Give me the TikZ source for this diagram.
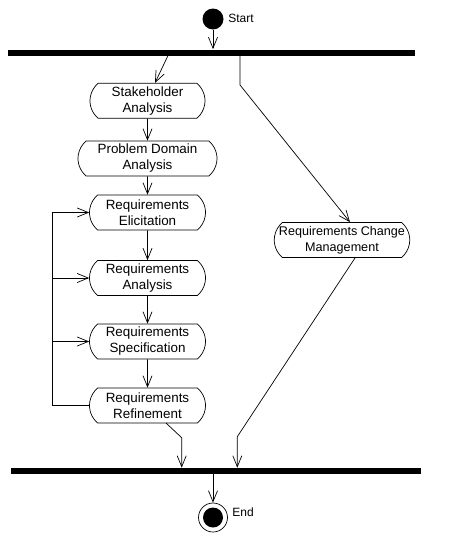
\documentclass[tikz,border=0pt]{standalone}
\usepackage{fontspec}
\setmainfont{Liberation Sans}
\usetikzlibrary{arrows.meta,shapes.misc}
\begin{document}
\begin{tikzpicture}[x=1pt,y=-1pt,
  every path/.style={line width=0.7pt},
  act/.style={draw,rounded rectangle,rounded rectangle arc length=100,minimum height=35pt,inner sep=0pt,align=center,font=\fontsize{13.4}{16}\selectfont},
  bar/.style={fill=black,draw=none,minimum height=6pt,inner sep=0pt},
  arr/.style={-{Straight Barb[length=11pt,width=9pt]}},
  lbl/.style={anchor=west,inner sep=0pt,font=\fontsize{12}{14}\selectfont}]
\useasboundingbox (0,0) rectangle (449,533);
% start / end
\node[circle,fill=black,minimum size=21pt,inner sep=0pt] (start) at (213,19) {};
\node[lbl] (startl) at (228,18) {Start};
\node[bar,minimum width=407pt] (topbar) at (211.5,52.5) {};
\node[bar,minimum width=410pt] (botbar) at (216,471) {};
\node[circle,draw,minimum size=29pt,inner sep=0pt] (endc) at (213,517.5) {};
\node[circle,fill=black,minimum size=20pt,inner sep=0pt] (endi) at (213,517.5) {};
\node[lbl] (endl) at (232,512) {End};
% activities
\node[act,minimum width=115pt] (sh) at (147.5,100.8) {Stakeholder\\Analysis};
\node[act,minimum width=139pt] (pd) at (147.5,158.5) {Problem Domain\\Analysis};
\node[act,minimum width=116pt] (el) at (147.5,212.5) {Requirements\\Elicitation};
\node[act,minimum width=116pt] (an) at (147.5,278) {Requirements\\Analysis};
\node[act,minimum width=116pt] (sp) at (147.5,341.5) {Requirements\\Specification};
\node[act,minimum width=116pt] (rf) at (147.5,405.5) {Requirements\\Refinement};
\node[act,minimum width=134pt,font=\fontsize{12.6}{16}\selectfont] (cm) at (342,240) {Requirements Change\\Management};
% coordinates
\coordinate (a1) at (168,55.5);
\coordinate (a2) at (155,0);
\coordinate (b1) at (240,55.5);
\coordinate (b2) at (240,85);
\coordinate (b3) at (350,0);
\coordinate (lx) at (52.7,0);
\coordinate (r1) at (166,423);
\coordinate (r2) at (181.7,437.7);
\coordinate (c1) at (355,258);
\coordinate (c2) at (237.3,436.7);
% connectors
\draw[arr] (start) -- (start.south |- topbar.north);
\draw[arr] (a1) -- (sh.north -| a2);
\draw[arr] (b1) -- (b2) -- (cm.north -| b3);
\draw[arr] (sh) -- (pd);
\draw[arr] (pd) -- (el);
\draw[arr] (el) -- (an);
\draw[arr] (an) -- (sp);
\draw[arr] (sp) -- (rf);
\draw[arr] (rf.west) -- (rf.west -| lx) -- (el.west -| lx) -- (el.west);
\draw[arr] (an.west -| lx) -- (an.west);
\draw[arr] (sp.west -| lx) -- (sp.west);
\draw[arr] (r1) -- (r2) -- (r2 |- botbar.north);
\draw[arr] (c1) -- (c2) -- (c2 |- botbar.north);
\draw[arr] (botbar.south -| endc) -- (endc.north);
\end{tikzpicture}
\end{document}
